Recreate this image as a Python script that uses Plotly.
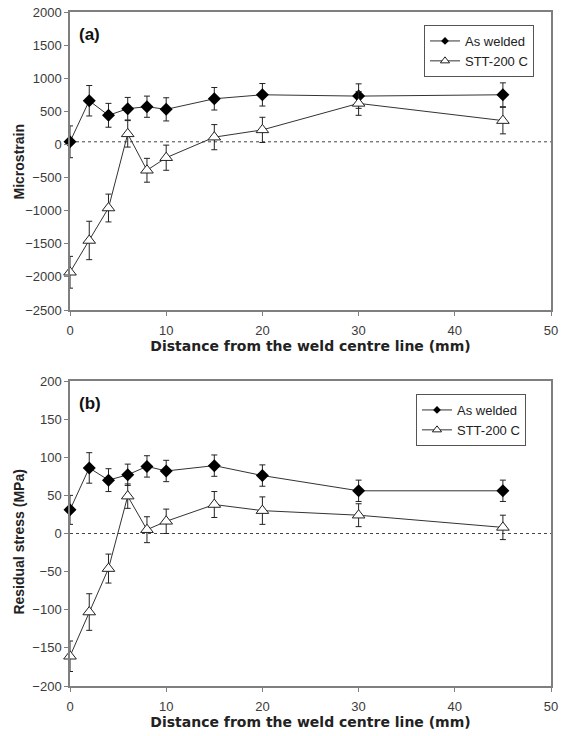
import plotly.graph_objects as go

# ---------------- data ----------------
distance = [0, 2, 4, 6, 8, 10, 15, 20, 30, 45]

# (a) microstrain
strain_as_welded = [40, 660, 440, 540, 570, 530, 690, 750, 730, 750]
strain_as_welded_err = [240, 230, 180, 170, 160, 175, 170, 170, 185, 180]
strain_stt = [-1930, -1450, -960, 160, -390, -200, 110, 220, 620, 360]
strain_stt_err = [240, 290, 210, 200, 180, 190, 190, 190, 180, 200]

# (b) residual stress (MPa)
stress_as_welded = [31, 86, 70, 77, 88, 82, 89, 76, 56, 56]
stress_as_welded_err = [19, 20, 15, 14, 14, 14, 14, 14, 14, 14]
stress_stt = [-161, -103, -46, 49, 5, 16, 38, 30, 24, 8]
stress_stt_err = [20, 24, 19, 16, 17, 16, 17, 18, 15, 16]

series_names = ["As welded", "STT-200 C"]
panel_labels = ["(a)", "(b)"]
x_title = "Distance from the weld centre line (mm)"
y_titles = ["Microstrain", "Residual stress (MPa)"]
x_ticks = [0, 10, 20, 30, 40, 50]
y_ticks_a = [2000, 1500, 1000, 500, 0, -500, -1000, -1500, -2000, -2500]
y_ticks_b = [200, 150, 100, 50, 0, -50, -100, -150, -200]
zero_level = [40, 0]

# ---------------- figure ----------------
FONT = "Liberation Sans, Arial, sans-serif"
TITLE_FONT = "DejaVu Sans, Liberation Sans, sans-serif"
LINE = "#333333"
AXIS = "#7f7f7f"
ERR = "#222222"

fig = go.Figure()


def add_pair(xa, ya, legend, aw, aw_err, st, st_err):
    fig.add_trace(go.Scatter(
        x=distance, y=aw, name=series_names[0], mode="lines+markers",
        xaxis=xa, yaxis=ya, showlegend=False, cliponaxis=False,
        line=dict(color=LINE, width=1),
        marker=dict(symbol="diamond", size=10, color="black"),
        error_y=dict(type="data", array=aw_err, visible=True,
                     color=ERR, thickness=1, width=3),
    ))
    fig.add_trace(go.Scatter(
        x=distance, y=st, name=series_names[1], mode="lines+markers",
        xaxis=xa, yaxis=ya, showlegend=False, cliponaxis=False,
        line=dict(color=LINE, width=1),
        marker=dict(symbol="triangle-up", size=11, color="white",
                    line=dict(color=ERR, width=1)),
        error_y=dict(type="data", array=st_err, visible=True,
                     color=ERR, thickness=1, width=3),
    ))
    # legend entries with the small legend glyphs of the original
    fig.add_trace(go.Scatter(
        x=[None], y=[None], name=series_names[0], mode="lines+markers",
        xaxis=xa, yaxis=ya, legend=legend,
        line=dict(color=LINE, width=1),
        marker=dict(symbol="diamond", size=6, color="black"),
    ))
    fig.add_trace(go.Scatter(
        x=[None], y=[None], name=series_names[1], mode="lines+markers",
        xaxis=xa, yaxis=ya, legend=legend,
        line=dict(color=LINE, width=1),
        marker=dict(symbol="triangle-up", size=8, color="white",
                    line=dict(color=ERR, width=1)),
    ))


add_pair("x", "y", "legend", strain_as_welded, strain_as_welded_err,
         strain_stt, strain_stt_err)
add_pair("x2", "y2", "legend2", stress_as_welded, stress_as_welded_err,
         stress_stt, stress_stt_err)

W, H = 562, 736
xdom = [70 / W, 551 / W]
ydom_a = [1 - 310 / H, 1 - 12 / H]
ydom_b = [1 - 686 / H, 1 - 381 / H]

axis_common = dict(
    showline=True, linecolor=AXIS, linewidth=1.5, mirror=True,
    ticks="outside", ticklen=4, tickcolor=AXIS, tickwidth=1,
    showgrid=False, zeroline=False, automargin=False,
    tickfont=dict(family=FONT, size=13, color="#3a3a3a"),
)
xtitle = dict(text=x_title, font=dict(family=TITLE_FONT, size=14,
                                      color="#222222", weight="bold"),
              standoff=4)
ytitle_font = dict(family=FONT, size=14, color="#222222", weight="bold")

legend_common = dict(
    xanchor="left", yanchor="top",
    bordercolor="#555555", borderwidth=1, bgcolor="white",
    font=dict(family=FONT, size=13, color="#222222"),
    itemwidth=30, tracegroupgap=0,
)

fig.update_layout(
    width=W, height=H,
    margin=dict(l=0, r=0, t=0, b=0, autoexpand=False),
    paper_bgcolor="white", plot_bgcolor="white",
    font=dict(family=FONT, color="#222222"),
    xaxis=dict(domain=xdom, range=[0, 50], tickvals=x_ticks, anchor="y",
               ticklabelstandoff=4, title=xtitle, **axis_common),
    yaxis=dict(domain=ydom_a, range=[-2500, 2000], tickvals=y_ticks_a,
               anchor="x", **axis_common),
    xaxis2=dict(domain=xdom, range=[0, 50], tickvals=x_ticks, anchor="y2",
                ticklabelstandoff=4, title=xtitle, **axis_common),
    yaxis2=dict(domain=ydom_b, range=[-200, 200], tickvals=y_ticks_b,
                anchor="x2", **axis_common),
    legend=dict(x=424 / W, y=1 - 25 / H, **legend_common),
    legend2=dict(x=416 / W, y=1 - 394 / H, **legend_common),
    showlegend=True,
)

# y-axis titles
for i, ydom in enumerate([ydom_a, ydom_b]):
    yc = (ydom[0] + ydom[1]) / 2 - (0.002 if i == 0 else 0.011)
    fig.add_annotation(text=y_titles[i], xref="paper", yref="paper",
                       x=19 / W, y=yc, xanchor="center", yanchor="middle",
                       textangle=-90, showarrow=False, font=ytitle_font)

# dashed reference lines
for i, (xr, yr) in enumerate([("x", "y"), ("x2", "y2")]):
    fig.add_shape(type="line", xref=xr, yref=yr, x0=0, x1=50,
                  y0=zero_level[i], y1=zero_level[i],
                  line=dict(color="#444444", width=1, dash="3px,3px"),
                  layer="below")

# panel labels
for i, (xr, yr) in enumerate([("x domain", "y domain"),
                              ("x2 domain", "y2 domain")]):
    fig.add_annotation(text=panel_labels[i], xref=xr, yref=yr,
                       x=0.015, y=0.925, xanchor="left", yanchor="middle",
                       showarrow=False,
                       font=dict(family=FONT, size=17, color="#111111",
                                 weight="bold"))

fig.write_html("out.html")
